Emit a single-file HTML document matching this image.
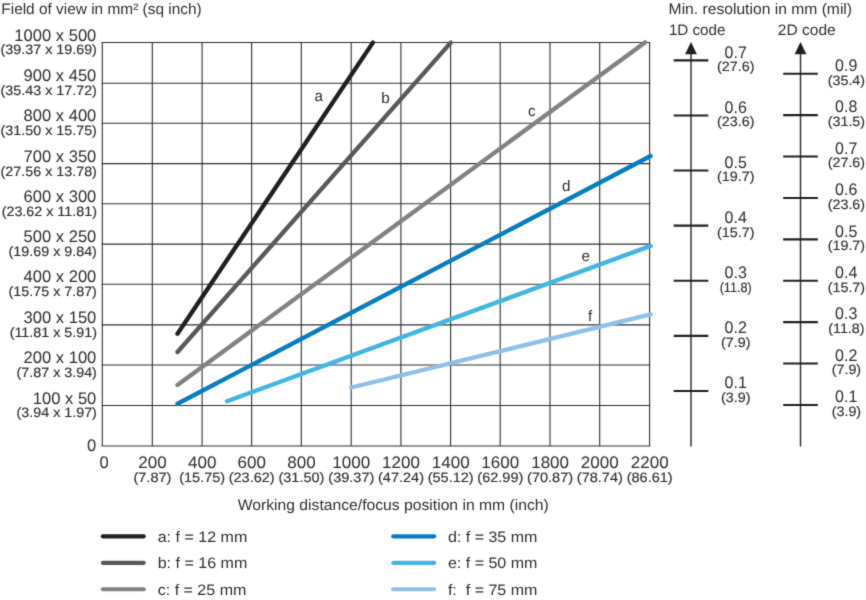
<!DOCTYPE html>
<html><head><meta charset="utf-8"><title>Field of view chart</title>
<style>
html,body{margin:0;padding:0;background:#fff;}
body{width:866px;height:600px;overflow:hidden;font-family:"Liberation Sans",sans-serif;}
svg{display:block;will-change:transform;}
</style></head><body>
<svg width="866" height="600" viewBox="0 0 866 600">
<defs><filter id="soft" x="0" y="0" width="866" height="600" filterUnits="userSpaceOnUse" color-interpolation-filters="sRGB"><feConvolveMatrix order="3" kernelMatrix="0.01562 0.09375 0.01562 0.09375 0.56250 0.09375 0.01562 0.09375 0.01562" divisor="1" edgeMode="duplicate"/></filter></defs>
<g filter="url(#soft)">
<rect width="866" height="600" fill="#ffffff"/>
<g stroke="#303030" stroke-width="1.1" fill="none">
<line x1="102.30" y1="42.50" x2="102.30" y2="446.00"/>
<line x1="152.30" y1="42.50" x2="152.30" y2="446.00"/>
<line x1="202.10" y1="42.50" x2="202.10" y2="446.00"/>
<line x1="251.60" y1="42.50" x2="251.60" y2="446.00"/>
<line x1="301.30" y1="42.50" x2="301.30" y2="446.00"/>
<line x1="351.20" y1="42.50" x2="351.20" y2="446.00"/>
<line x1="400.90" y1="42.50" x2="400.90" y2="446.00"/>
<line x1="450.60" y1="42.50" x2="450.60" y2="446.00"/>
<line x1="500.20" y1="42.50" x2="500.20" y2="446.00"/>
<line x1="550.00" y1="42.50" x2="550.00" y2="446.00"/>
<line x1="599.70" y1="42.50" x2="599.70" y2="446.00"/>
<line x1="649.60" y1="42.50" x2="649.60" y2="446.00"/>
<line x1="101.70" y1="42.50" x2="650.20" y2="42.50"/>
<line x1="101.70" y1="83.20" x2="650.20" y2="83.20"/>
<line x1="101.70" y1="123.25" x2="650.20" y2="123.25"/>
<line x1="101.70" y1="163.60" x2="650.20" y2="163.60"/>
<line x1="101.70" y1="203.80" x2="650.20" y2="203.80"/>
<line x1="101.70" y1="244.10" x2="650.20" y2="244.10"/>
<line x1="101.70" y1="284.20" x2="650.20" y2="284.20"/>
<line x1="101.70" y1="324.90" x2="650.20" y2="324.90"/>
<line x1="101.70" y1="365.00" x2="650.20" y2="365.00"/>
<line x1="101.70" y1="405.50" x2="650.20" y2="405.50"/>
<line x1="101.70" y1="446.00" x2="650.20" y2="446.00"/>
</g>
<g stroke-width="4.35" stroke-linecap="round" fill="none">
<line x1="177.5" y1="333.75" x2="372.9" y2="42.6" stroke="#231f20"/>
<line x1="177.5" y1="352.0" x2="450.75" y2="42.6" stroke="#58595b"/>
<line x1="177.5" y1="385.0" x2="645.0" y2="42.4" stroke="#808285"/>
<line x1="177.5" y1="403.75" x2="650.6" y2="156.0" stroke="#067dc3"/>
<line x1="227.0" y1="401.25" x2="650.6" y2="245.9" stroke="#42b5e2"/>
<line x1="351.25" y1="387.5" x2="650.6" y2="314.4" stroke="#90bfe7"/>
</g>
<g font-family="Liberation Sans, sans-serif" fill="#2f2f2f" text-rendering="geometricPrecision">
<text transform="translate(1.30 13.60) scale(1.0144 1)" font-size="15.2" text-anchor="start" >Field of view in mm² (sq inch)</text>
<text transform="translate(668.60 13.50) scale(1.0302 1)" font-size="15.2" text-anchor="start" >Min. resolution in mm (mil)</text>
<text transform="translate(668.90 34.80) scale(0.9990 1)" font-size="15.2" text-anchor="start" >1D code</text>
<text transform="translate(777.80 34.80) scale(1.0230 1)" font-size="15.2" text-anchor="start" >2D code</text>
<text transform="translate(237.70 509.70) scale(1.0332 1)" font-size="15.2" text-anchor="start" >Working distance/focus position in mm (inch)</text>
<text transform="translate(96.30 40.55) scale(0.9920 1)" font-size="16.7" text-anchor="end" >1000 x 500</text>
<text transform="translate(96.90 54.40) scale(1.0530 1)" font-size="13.6" text-anchor="end"  stroke="#2f2f2f" stroke-width="0.15">(39.37 x 19.69)</text>
<text transform="translate(96.30 81.25) scale(0.9920 1)" font-size="16.7" text-anchor="end" >900 x 450</text>
<text transform="translate(96.90 95.10) scale(1.0530 1)" font-size="13.6" text-anchor="end"  stroke="#2f2f2f" stroke-width="0.15">(35.43 x 17.72)</text>
<text transform="translate(96.30 121.30) scale(0.9920 1)" font-size="16.7" text-anchor="end" >800 x 400</text>
<text transform="translate(96.90 135.15) scale(1.0530 1)" font-size="13.6" text-anchor="end"  stroke="#2f2f2f" stroke-width="0.15">(31.50 x 15.75)</text>
<text transform="translate(96.30 161.65) scale(0.9920 1)" font-size="16.7" text-anchor="end" >700 x 350</text>
<text transform="translate(96.90 175.50) scale(1.0530 1)" font-size="13.6" text-anchor="end"  stroke="#2f2f2f" stroke-width="0.15">(27.56 x 13.78)</text>
<text transform="translate(96.30 201.85) scale(0.9920 1)" font-size="16.7" text-anchor="end" >600 x 300</text>
<text transform="translate(96.90 215.70) scale(1.0530 1)" font-size="13.6" text-anchor="end"  stroke="#2f2f2f" stroke-width="0.15">(23.62 x 11.81)</text>
<text transform="translate(96.30 242.15) scale(0.9920 1)" font-size="16.7" text-anchor="end" >500 x 250</text>
<text transform="translate(96.90 256.00) scale(1.0530 1)" font-size="13.6" text-anchor="end"  stroke="#2f2f2f" stroke-width="0.15">(19.69 x 9.84)</text>
<text transform="translate(96.30 282.25) scale(0.9920 1)" font-size="16.7" text-anchor="end" >400 x 200</text>
<text transform="translate(96.90 296.10) scale(1.0530 1)" font-size="13.6" text-anchor="end"  stroke="#2f2f2f" stroke-width="0.15">(15.75 x 7.87)</text>
<text transform="translate(96.30 322.95) scale(0.9920 1)" font-size="16.7" text-anchor="end" >300 x 150</text>
<text transform="translate(96.90 336.80) scale(1.0530 1)" font-size="13.6" text-anchor="end"  stroke="#2f2f2f" stroke-width="0.15">(11.81 x 5.91)</text>
<text transform="translate(96.30 363.05) scale(0.9920 1)" font-size="16.7" text-anchor="end" >200 x 100</text>
<text transform="translate(96.90 376.90) scale(1.0530 1)" font-size="13.6" text-anchor="end"  stroke="#2f2f2f" stroke-width="0.15">(7.87 x 3.94)</text>
<text transform="translate(96.30 403.55) scale(0.9920 1)" font-size="16.7" text-anchor="end" >100 x 50</text>
<text transform="translate(96.90 417.40) scale(1.0530 1)" font-size="13.6" text-anchor="end"  stroke="#2f2f2f" stroke-width="0.15">(3.94 x 1.97)</text>
<text transform="translate(96.30 450.90) scale(0.9920 1)" font-size="16.7" text-anchor="end" >0</text>
<text transform="translate(104.00 467.65) scale(0.9920 1)" font-size="16.7" text-anchor="middle" >0</text>
<text transform="translate(152.40 467.65) scale(1.0200 1)" font-size="16.7" text-anchor="middle" >200</text>
<text transform="translate(152.40 481.50) scale(1.0680 1)" font-size="13.6" text-anchor="middle"  stroke="#2f2f2f" stroke-width="0.15">(7.87)</text>
<text transform="translate(202.20 467.65) scale(1.0200 1)" font-size="16.7" text-anchor="middle" >400</text>
<text transform="translate(202.20 481.50) scale(1.0680 1)" font-size="13.6" text-anchor="middle"  stroke="#2f2f2f" stroke-width="0.15">(15.75)</text>
<text transform="translate(251.70 467.65) scale(1.0200 1)" font-size="16.7" text-anchor="middle" >600</text>
<text transform="translate(251.70 481.50) scale(1.0680 1)" font-size="13.6" text-anchor="middle"  stroke="#2f2f2f" stroke-width="0.15">(23.62)</text>
<text transform="translate(301.40 467.65) scale(1.0200 1)" font-size="16.7" text-anchor="middle" >800</text>
<text transform="translate(301.40 481.50) scale(1.0680 1)" font-size="13.6" text-anchor="middle"  stroke="#2f2f2f" stroke-width="0.15">(31.50)</text>
<text transform="translate(351.30 467.65) scale(1.0200 1)" font-size="16.7" text-anchor="middle" >1000</text>
<text transform="translate(351.30 481.50) scale(1.0680 1)" font-size="13.6" text-anchor="middle"  stroke="#2f2f2f" stroke-width="0.15">(39.37)</text>
<text transform="translate(401.00 467.65) scale(1.0200 1)" font-size="16.7" text-anchor="middle" >1200</text>
<text transform="translate(401.00 481.50) scale(1.0680 1)" font-size="13.6" text-anchor="middle"  stroke="#2f2f2f" stroke-width="0.15">(47.24)</text>
<text transform="translate(450.70 467.65) scale(1.0200 1)" font-size="16.7" text-anchor="middle" >1400</text>
<text transform="translate(450.70 481.50) scale(1.0680 1)" font-size="13.6" text-anchor="middle"  stroke="#2f2f2f" stroke-width="0.15">(55.12)</text>
<text transform="translate(500.30 467.65) scale(1.0200 1)" font-size="16.7" text-anchor="middle" >1600</text>
<text transform="translate(500.30 481.50) scale(1.0680 1)" font-size="13.6" text-anchor="middle"  stroke="#2f2f2f" stroke-width="0.15">(62.99)</text>
<text transform="translate(550.10 467.65) scale(1.0200 1)" font-size="16.7" text-anchor="middle" >1800</text>
<text transform="translate(550.10 481.50) scale(1.0680 1)" font-size="13.6" text-anchor="middle"  stroke="#2f2f2f" stroke-width="0.15">(70.87)</text>
<text transform="translate(599.80 467.65) scale(1.0200 1)" font-size="16.7" text-anchor="middle" >2000</text>
<text transform="translate(599.80 481.50) scale(1.0680 1)" font-size="13.6" text-anchor="middle"  stroke="#2f2f2f" stroke-width="0.15">(78.74)</text>
<text transform="translate(649.70 467.65) scale(1.0200 1)" font-size="16.7" text-anchor="middle" >2200</text>
<text transform="translate(649.70 481.50) scale(1.0680 1)" font-size="13.6" text-anchor="middle"  stroke="#2f2f2f" stroke-width="0.15">(86.61)</text>
<text transform="translate(314.50 100.50) scale(1.0000 1)" font-size="15.2" text-anchor="start" >a</text>
<text transform="translate(381.20 102.50) scale(1.0000 1)" font-size="15.2" text-anchor="start" >b</text>
<text transform="translate(528.00 116.00) scale(1.0000 1)" font-size="15.2" text-anchor="start" >c</text>
<text transform="translate(562.10 191.30) scale(1.0000 1)" font-size="15.2" text-anchor="start" >d</text>
<text transform="translate(581.50 260.90) scale(1.0000 1)" font-size="15.2" text-anchor="start" >e</text>
<text transform="translate(588.10 321.00) scale(1.0000 1)" font-size="15.2" text-anchor="start" >f</text>
<text transform="translate(157.70 541.80) scale(1.0557 1)" font-size="15.2" text-anchor="start" >a: f = 12 mm</text>
<text transform="translate(157.70 568.20) scale(1.0557 1)" font-size="15.2" text-anchor="start" >b: f = 16 mm</text>
<text transform="translate(157.70 594.50) scale(1.0557 1)" font-size="15.2" text-anchor="start" >c: f = 25 mm</text>
<text transform="translate(447.90 541.80) scale(1.0557 1)" font-size="15.2" text-anchor="start" xml:space="preserve">d: f = 35 mm</text>
<text transform="translate(447.90 568.20) scale(1.0557 1)" font-size="15.2" text-anchor="start" xml:space="preserve">e: f = 50 mm</text>
<text transform="translate(447.90 594.50) scale(1.0557 1)" font-size="15.2" text-anchor="start" xml:space="preserve">f:  f = 75 mm</text>
<text transform="translate(735.70 57.55) scale(0.9580 1)" font-size="16.7" text-anchor="middle" >0.7</text>
<text transform="translate(735.70 71.25) scale(1.0530 1)" font-size="13.6" text-anchor="middle"  stroke="#2f2f2f" stroke-width="0.15">(27.6)</text>
<text transform="translate(735.70 112.65) scale(0.9580 1)" font-size="16.7" text-anchor="middle" >0.6</text>
<text transform="translate(735.70 126.35) scale(1.0530 1)" font-size="13.6" text-anchor="middle"  stroke="#2f2f2f" stroke-width="0.15">(23.6)</text>
<text transform="translate(735.70 167.75) scale(0.9580 1)" font-size="16.7" text-anchor="middle" >0.5</text>
<text transform="translate(735.70 181.45) scale(1.0530 1)" font-size="13.6" text-anchor="middle"  stroke="#2f2f2f" stroke-width="0.15">(19.7)</text>
<text transform="translate(735.70 222.85) scale(0.9580 1)" font-size="16.7" text-anchor="middle" >0.4</text>
<text transform="translate(735.70 236.55) scale(1.0530 1)" font-size="13.6" text-anchor="middle"  stroke="#2f2f2f" stroke-width="0.15">(15.7)</text>
<text transform="translate(735.70 277.95) scale(0.9580 1)" font-size="16.7" text-anchor="middle" >0.3</text>
<text transform="translate(735.70 291.65) scale(0.9298 1)" font-size="13.6" text-anchor="middle"  stroke="#2f2f2f" stroke-width="0.15">(11.8)</text>
<text transform="translate(735.70 333.05) scale(0.9580 1)" font-size="16.7" text-anchor="middle" >0.2</text>
<text transform="translate(735.70 346.75) scale(1.0530 1)" font-size="13.6" text-anchor="middle"  stroke="#2f2f2f" stroke-width="0.15">(7.9)</text>
<text transform="translate(735.70 388.15) scale(0.9580 1)" font-size="16.7" text-anchor="middle" >0.1</text>
<text transform="translate(735.70 401.85) scale(1.0530 1)" font-size="13.6" text-anchor="middle"  stroke="#2f2f2f" stroke-width="0.15">(3.9)</text>
<text transform="translate(846.20 70.95) scale(0.9580 1)" font-size="16.7" text-anchor="middle" >0.9</text>
<text transform="translate(846.40 84.65) scale(1.0530 1)" font-size="13.6" text-anchor="middle"  stroke="#2f2f2f" stroke-width="0.15">(35.4)</text>
<text transform="translate(846.20 112.35) scale(0.9580 1)" font-size="16.7" text-anchor="middle" >0.8</text>
<text transform="translate(846.40 126.05) scale(1.0530 1)" font-size="13.6" text-anchor="middle"  stroke="#2f2f2f" stroke-width="0.15">(31.5)</text>
<text transform="translate(846.20 153.75) scale(0.9580 1)" font-size="16.7" text-anchor="middle" >0.7</text>
<text transform="translate(846.40 167.45) scale(1.0530 1)" font-size="13.6" text-anchor="middle"  stroke="#2f2f2f" stroke-width="0.15">(27.6)</text>
<text transform="translate(846.20 195.15) scale(0.9580 1)" font-size="16.7" text-anchor="middle" >0.6</text>
<text transform="translate(846.40 208.85) scale(1.0530 1)" font-size="13.6" text-anchor="middle"  stroke="#2f2f2f" stroke-width="0.15">(23.6)</text>
<text transform="translate(846.20 236.55) scale(0.9580 1)" font-size="16.7" text-anchor="middle" >0.5</text>
<text transform="translate(846.40 250.25) scale(1.0530 1)" font-size="13.6" text-anchor="middle"  stroke="#2f2f2f" stroke-width="0.15">(19.7)</text>
<text transform="translate(846.20 277.95) scale(0.9580 1)" font-size="16.7" text-anchor="middle" >0.4</text>
<text transform="translate(846.40 291.65) scale(1.0530 1)" font-size="13.6" text-anchor="middle"  stroke="#2f2f2f" stroke-width="0.15">(15.7)</text>
<text transform="translate(846.20 319.35) scale(0.9580 1)" font-size="16.7" text-anchor="middle" >0.3</text>
<text transform="translate(846.40 333.05) scale(1.0530 1)" font-size="13.6" text-anchor="middle"  stroke="#2f2f2f" stroke-width="0.15">(11.8)</text>
<text transform="translate(846.20 360.75) scale(0.9580 1)" font-size="16.7" text-anchor="middle" >0.2</text>
<text transform="translate(846.40 374.45) scale(1.0530 1)" font-size="13.6" text-anchor="middle"  stroke="#2f2f2f" stroke-width="0.15">(7.9)</text>
<text transform="translate(846.20 402.15) scale(0.9580 1)" font-size="16.7" text-anchor="middle" >0.1</text>
<text transform="translate(846.40 415.85) scale(1.0530 1)" font-size="13.6" text-anchor="middle"  stroke="#2f2f2f" stroke-width="0.15">(3.9)</text>
</g>
<line x1="691.0" y1="50" x2="691.0" y2="446.4" stroke="#303030" stroke-width="1.45"/>
<path d="M691.0 41.9 L696.9 54.2 L685.1 54.2 Z" fill="#231f20"/>
<line x1="673.7" y1="60.35" x2="708.3" y2="60.35" stroke="#231f20" stroke-width="2.1"/>
<line x1="673.7" y1="115.45" x2="708.3" y2="115.45" stroke="#231f20" stroke-width="2.1"/>
<line x1="673.7" y1="170.55" x2="708.3" y2="170.55" stroke="#231f20" stroke-width="2.1"/>
<line x1="673.7" y1="225.65" x2="708.3" y2="225.65" stroke="#231f20" stroke-width="2.1"/>
<line x1="673.7" y1="280.75" x2="708.3" y2="280.75" stroke="#231f20" stroke-width="2.1"/>
<line x1="673.7" y1="335.85" x2="708.3" y2="335.85" stroke="#231f20" stroke-width="2.1"/>
<line x1="673.7" y1="390.95" x2="708.3" y2="390.95" stroke="#231f20" stroke-width="2.1"/>
<line x1="800.5" y1="50" x2="800.5" y2="446.4" stroke="#303030" stroke-width="1.45"/>
<path d="M800.5 41.9 L806.4 54.2 L794.6 54.2 Z" fill="#231f20"/>
<line x1="783.2" y1="73.75" x2="817.8" y2="73.75" stroke="#231f20" stroke-width="2.1"/>
<line x1="783.2" y1="115.15" x2="817.8" y2="115.15" stroke="#231f20" stroke-width="2.1"/>
<line x1="783.2" y1="156.55" x2="817.8" y2="156.55" stroke="#231f20" stroke-width="2.1"/>
<line x1="783.2" y1="197.95" x2="817.8" y2="197.95" stroke="#231f20" stroke-width="2.1"/>
<line x1="783.2" y1="239.35" x2="817.8" y2="239.35" stroke="#231f20" stroke-width="2.1"/>
<line x1="783.2" y1="280.75" x2="817.8" y2="280.75" stroke="#231f20" stroke-width="2.1"/>
<line x1="783.2" y1="322.15" x2="817.8" y2="322.15" stroke="#231f20" stroke-width="2.1"/>
<line x1="783.2" y1="363.55" x2="817.8" y2="363.55" stroke="#231f20" stroke-width="2.1"/>
<line x1="783.2" y1="404.95" x2="817.8" y2="404.95" stroke="#231f20" stroke-width="2.1"/>
<g stroke-width="4.2" stroke-linecap="round">
<line x1="102.9" y1="536.35" x2="143.7" y2="536.35" stroke="#231f20"/>
<line x1="393.3" y1="536.35" x2="434.1" y2="536.35" stroke="#067dc3"/>
<line x1="102.9" y1="562.85" x2="143.7" y2="562.85" stroke="#58595b"/>
<line x1="393.3" y1="562.85" x2="434.1" y2="562.85" stroke="#42b5e2"/>
<line x1="102.9" y1="589.25" x2="143.7" y2="589.25" stroke="#808285"/>
<line x1="393.3" y1="589.25" x2="434.1" y2="589.25" stroke="#90bfe7"/>
</g>
</g>
</svg>
</body></html>
